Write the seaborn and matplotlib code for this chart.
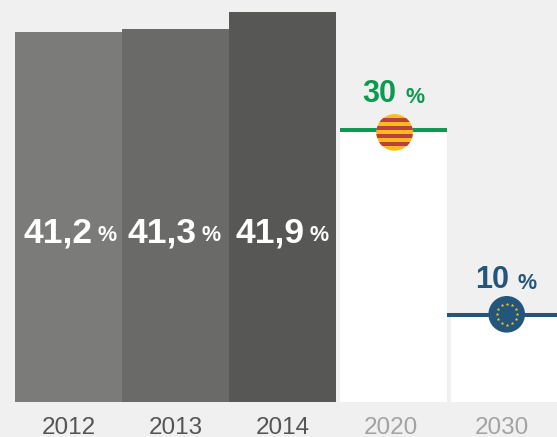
import numpy as np
import matplotlib
matplotlib.use('Agg')
import matplotlib.pyplot as plt
import seaborn as sns
from matplotlib.patches import Circle, Rectangle
from matplotlib.transforms import ScaledTranslation

# past years and targets, drawn heights are not quite proportional to the labels
past_years = ['2012', '2013', '2014']
past_heights = [40.8, 41.15, 43.0]
past_labels = ['41,2', '41,3', '41,9']
past_colors = ['#7b7b79', '#6a6a68', '#575755']

target_years = ['2020', '2030']
target_heights = [30, 9.7]
target_labels = ['30', '10']
target_colors = ['#0a9a50', '#24557a']

W, H = 557, 437
BG = '#f0f0f0'

sns.set_style('white')
plt.rcParams['font.family'] = ['Liberation Sans', 'DejaVu Sans']

fig = plt.figure(figsize=(W / 100, H / 100), dpi=100, facecolor=BG)
ymax = 402 / 9.067


def px_axes(x0, x1):
    ax = fig.add_axes([x0 / W, (H - 402) / H, (x1 - x0) / W, 402 / H], facecolor='none')
    return ax


ax1 = px_axes(15, 336)
sns.barplot(x=past_years, y=past_heights, hue=past_years, palette=past_colors, width=1,
            saturation=1, legend=False, linewidth=0, ax=ax1)
ax1.set_xlim(-0.5, 2.5)

ax2 = px_axes(338, 560)
sns.barplot(x=target_years, y=target_heights, color='white', width=107 / 111,
            saturation=1, linewidth=0, ax=ax2)
ax2.set_xlim(-0.5, 1.5)

for ax, col, shift in [(ax1, '#555555', 0), (ax2, '#a3a3a3', -3)]:
    ax.set_ylim(0, ymax)
    ax.set_yticks([])
    ax.set_xlabel('')
    ax.set_ylabel('')
    sns.despine(ax=ax, left=True, bottom=True)
    ax.tick_params(axis='x', length=0, pad=11, labelsize=17.5, labelcolor=col)
    for lab in ax.get_xticklabels():
        lab.set_transform(lab.get_transform() + ScaledTranslation(shift / 100, 0, fig.dpi_scale_trans))

# overlay in pixels for the labels, target lines and flags
ov = fig.add_axes([0, 0, 1, 1], facecolor='none')
ov.set_xlim(0, W)
ov.set_ylim(H, 0)
ov.axis('off')

for lab, x, px in zip(past_labels, [24, 128, 235], [98, 202, 309]):
    ov.text(x, 243, lab, color='white', fontsize=25.5, fontweight='bold', ha='left', va='baseline')
    ov.text(px, 241, '%', color='white', fontsize=15.5, fontweight='bold', ha='left', va='baseline')

for lab, col, x, px, y in zip(target_labels, target_colors, [362, 475], [406, 518], [102, 288]):
    ov.text(x, y, lab, color=col, fontsize=22, fontweight='bold', ha='left', va='baseline')
    ov.text(px, y + 1, '%', color=col, fontsize=15.5, fontweight='bold', ha='left', va='baseline')

ov.plot([340, 447], [130, 130], color=target_colors[0], lw=2.9, solid_capstyle='butt')
ov.plot([447, 557], [314.5, 314.5], color=target_colors[1], lw=2.9, solid_capstyle='butt')

# catalan flag
cat = Circle((394.6, 132.4), 18.3, color='#fdbb1b', lw=0, zorder=3)
ov.add_patch(cat)
for y0 in [118, 126, 134, 142]:
    stripe = Rectangle((370, y0), 50, 4, color='#b8403f', lw=0, zorder=4)
    ov.add_patch(stripe)
    stripe.set_clip_path(cat)

# eu flag
ov.add_patch(Circle((506.7, 314.3), 18.3, color=target_colors[1], lw=0, zorder=3))
ang = np.arange(12) * np.pi / 6
ov.scatter(506.7 + 10.2 * np.cos(ang), 314.3 + 10.2 * np.sin(ang), s=3.2, marker='*',
           color='#f2c81e', lw=0.3, zorder=4)

fig.savefig('out.png', dpi=100, facecolor=BG)
